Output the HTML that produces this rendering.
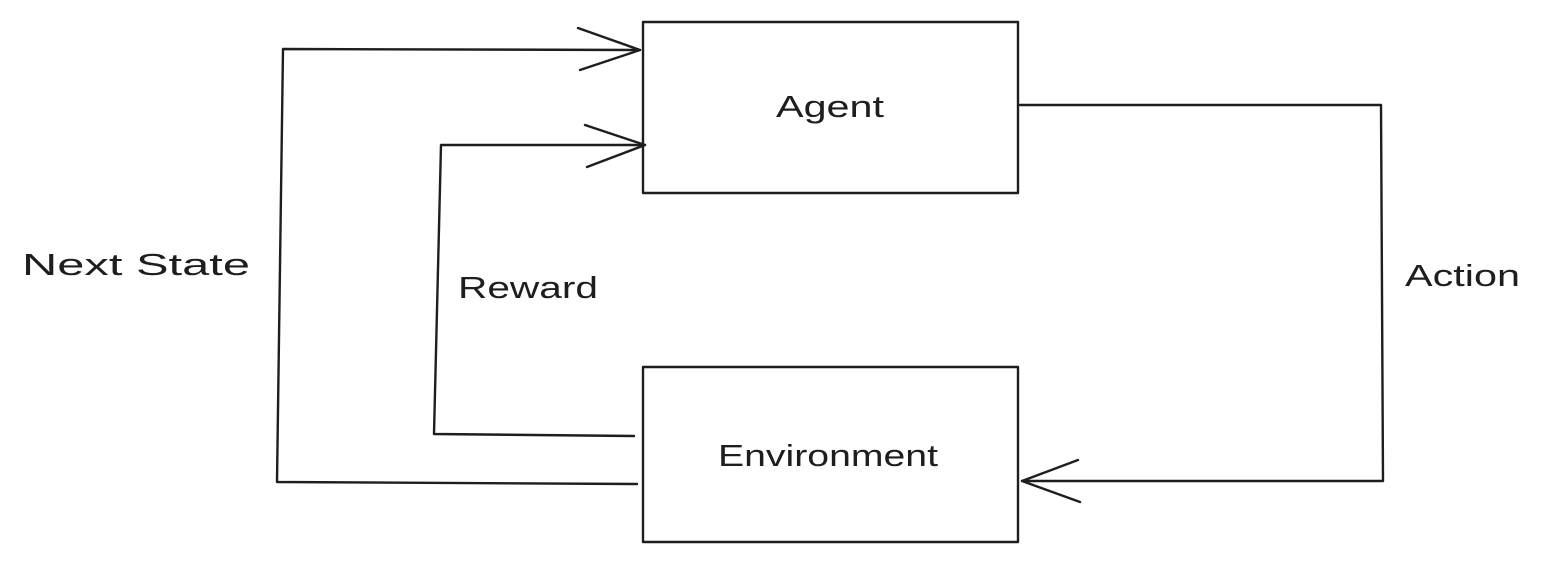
<!DOCTYPE html>
<html><head><meta charset="utf-8"><style>
html,body{margin:0;padding:0;background:#fff;}
svg{display:block}
text{font-family:"Liberation Sans",sans-serif;font-size:31px;fill:#1e1e1e}
</style></head><body>
<svg width="1542" height="562" viewBox="0 0 1542 562" xmlns="http://www.w3.org/2000/svg">
<g fill="none" stroke="#1e1e1e" stroke-width="2.4" stroke-linecap="round" stroke-linejoin="round">
<rect x="643" y="22" width="375" height="171"/>
<rect x="643" y="367" width="375" height="175"/>
<polyline points="637,484 277,482 283,49 640,50"/>
<polyline points="578,28 640,50 580,70"/>
<polyline points="634,436 434,434 441,145 645,145"/>
<polyline points="585,125 645,145 587,167"/>
<polyline points="1020,105 1381,105 1383,481 1022,481"/>
<polyline points="1078,460 1022,481 1080,502"/>
</g>
<text x="776" y="117" textLength="108" lengthAdjust="spacingAndGlyphs">Agent</text>
<text x="718" y="466" textLength="220" lengthAdjust="spacingAndGlyphs">Environment</text>
<text x="22" y="275" textLength="228" lengthAdjust="spacingAndGlyphs">Next State</text>
<text x="458" y="298" textLength="140" lengthAdjust="spacingAndGlyphs">Reward</text>
<text x="1405" y="286" textLength="115" lengthAdjust="spacingAndGlyphs">Action</text>
</svg>
</body></html>
